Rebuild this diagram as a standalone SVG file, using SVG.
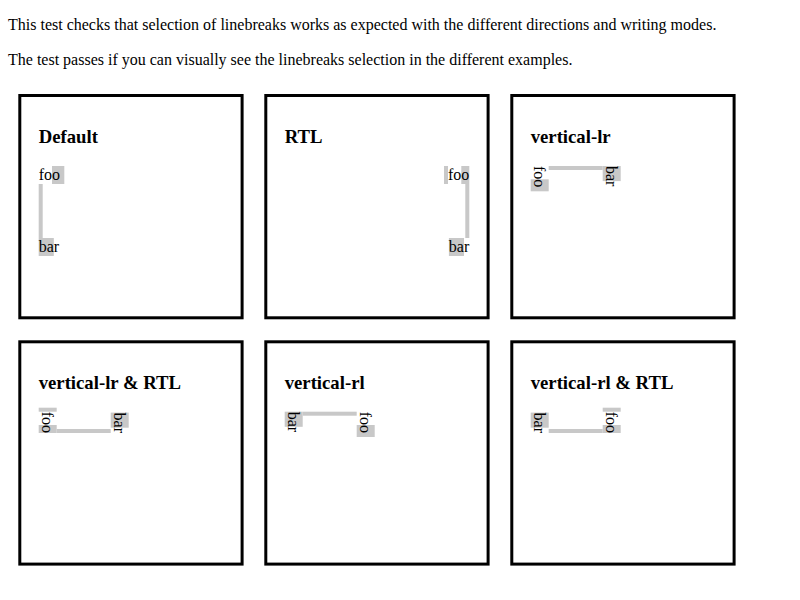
<svg xmlns="http://www.w3.org/2000/svg" width="800" height="600" viewBox="0 0 800 600">
<style>
.p{font-family:"Liberation Serif","Times New Roman",serif;font-size:16px;fill:#000}
.t{font-family:"Liberation Serif","Times New Roman",serif;font-size:18.72px;font-weight:bold;fill:#000}
.box{fill:#fff;stroke:#000;stroke-width:3}
.sel{fill:#c8c8c8}
</style>
<rect width="800" height="600" fill="#fff"/>
<text class="p" x="8" y="30">This test checks that selection of linebreaks works as expected with the different directions and writing modes.</text>
<text class="p" x="8" y="64.7">The test passes if you can visually see the linebreaks selection in the different examples.</text>

<g id="default">
<rect class="box" x="19.8" y="95.5" width="222.3" height="222.3"/>
<text class="t" x="38.7" y="143.3">Default</text>
<rect class="sel" x="52" y="166" width="12.3" height="18"/>
<rect class="sel" x="38.7" y="184" width="4" height="54"/>
<rect class="sel" x="38.7" y="238" width="15.1" height="18"/>
<text class="p" x="38.7" y="180.3">foo</text>
<text class="p" x="38.7" y="252.3">bar</text>
</g>

<g id="rtl">
<rect class="box" x="265.8" y="95.5" width="222.3" height="222.3"/>
<text class="t" x="284.7" y="143.3">RTL</text>
<rect class="sel" x="444" y="166" width="4" height="18"/>
<rect class="sel" x="461.3" y="166" width="8" height="18"/>
<rect class="sel" x="465.3" y="184" width="4" height="54"/>
<rect class="sel" x="448.9" y="238" width="15.1" height="18"/>
<text class="p" x="469.3" y="180.3" text-anchor="end">foo</text>
<text class="p" x="469.3" y="252.3" text-anchor="end">bar</text>
</g>

<g id="vertical-lr">
<rect class="box" x="511.8" y="95.5" width="222.3" height="222.3"/>
<text class="t" x="530.7" y="143.3">vertical-lr</text>
<rect class="sel" x="530.7" y="179.3" width="18" height="12"/>
<rect class="sel" x="548.7" y="166" width="54" height="4"/>
<rect class="sel" x="602.7" y="166" width="18" height="15.1"/>
<text class="p" transform="translate(534.2,166) rotate(90)">foo</text>
<text class="p" transform="translate(606.2,166) rotate(90)">bar</text>
</g>

<g id="vertical-lr-rtl">
<rect class="box" x="19.8" y="341.8" width="222.3" height="222.3"/>
<text class="t" x="38.7" y="389">vertical-lr &amp; RTL</text>
<rect class="sel" x="38.7" y="407.7" width="18" height="4"/>
<rect class="sel" x="38.7" y="425" width="18" height="8"/>
<rect class="sel" x="56.7" y="429" width="54" height="4"/>
<rect class="sel" x="110.7" y="412.6" width="18" height="15.1"/>
<text class="p" transform="translate(42.2,411.7) rotate(90)">foo</text>
<text class="p" transform="translate(114.2,412.6) rotate(90)">bar</text>
</g>

<g id="vertical-rl">
<rect class="box" x="265.8" y="341.8" width="222.3" height="222.3"/>
<text class="t" x="284.7" y="389">vertical-rl</text>
<rect class="sel" x="356.7" y="425" width="18" height="12"/>
<rect class="sel" x="302.7" y="411.7" width="54" height="4"/>
<rect class="sel" x="284.7" y="411.7" width="18" height="15.1"/>
<text class="p" transform="translate(360.2,411.7) rotate(90)">foo</text>
<text class="p" transform="translate(288.2,411.7) rotate(90)">bar</text>
</g>

<g id="vertical-rl-rtl">
<rect class="box" x="511.8" y="341.8" width="222.3" height="222.3"/>
<text class="t" x="530.7" y="389">vertical-rl &amp; RTL</text>
<rect class="sel" x="530.7" y="412.6" width="18" height="15.1"/>
<rect class="sel" x="548.7" y="429" width="54" height="4"/>
<rect class="sel" x="602.7" y="407.7" width="18" height="4"/>
<rect class="sel" x="602.7" y="425" width="18" height="8"/>
<text class="p" transform="translate(534.2,412.6) rotate(90)">bar</text>
<text class="p" transform="translate(606.2,411.7) rotate(90)">foo</text>
</g>
</svg>
